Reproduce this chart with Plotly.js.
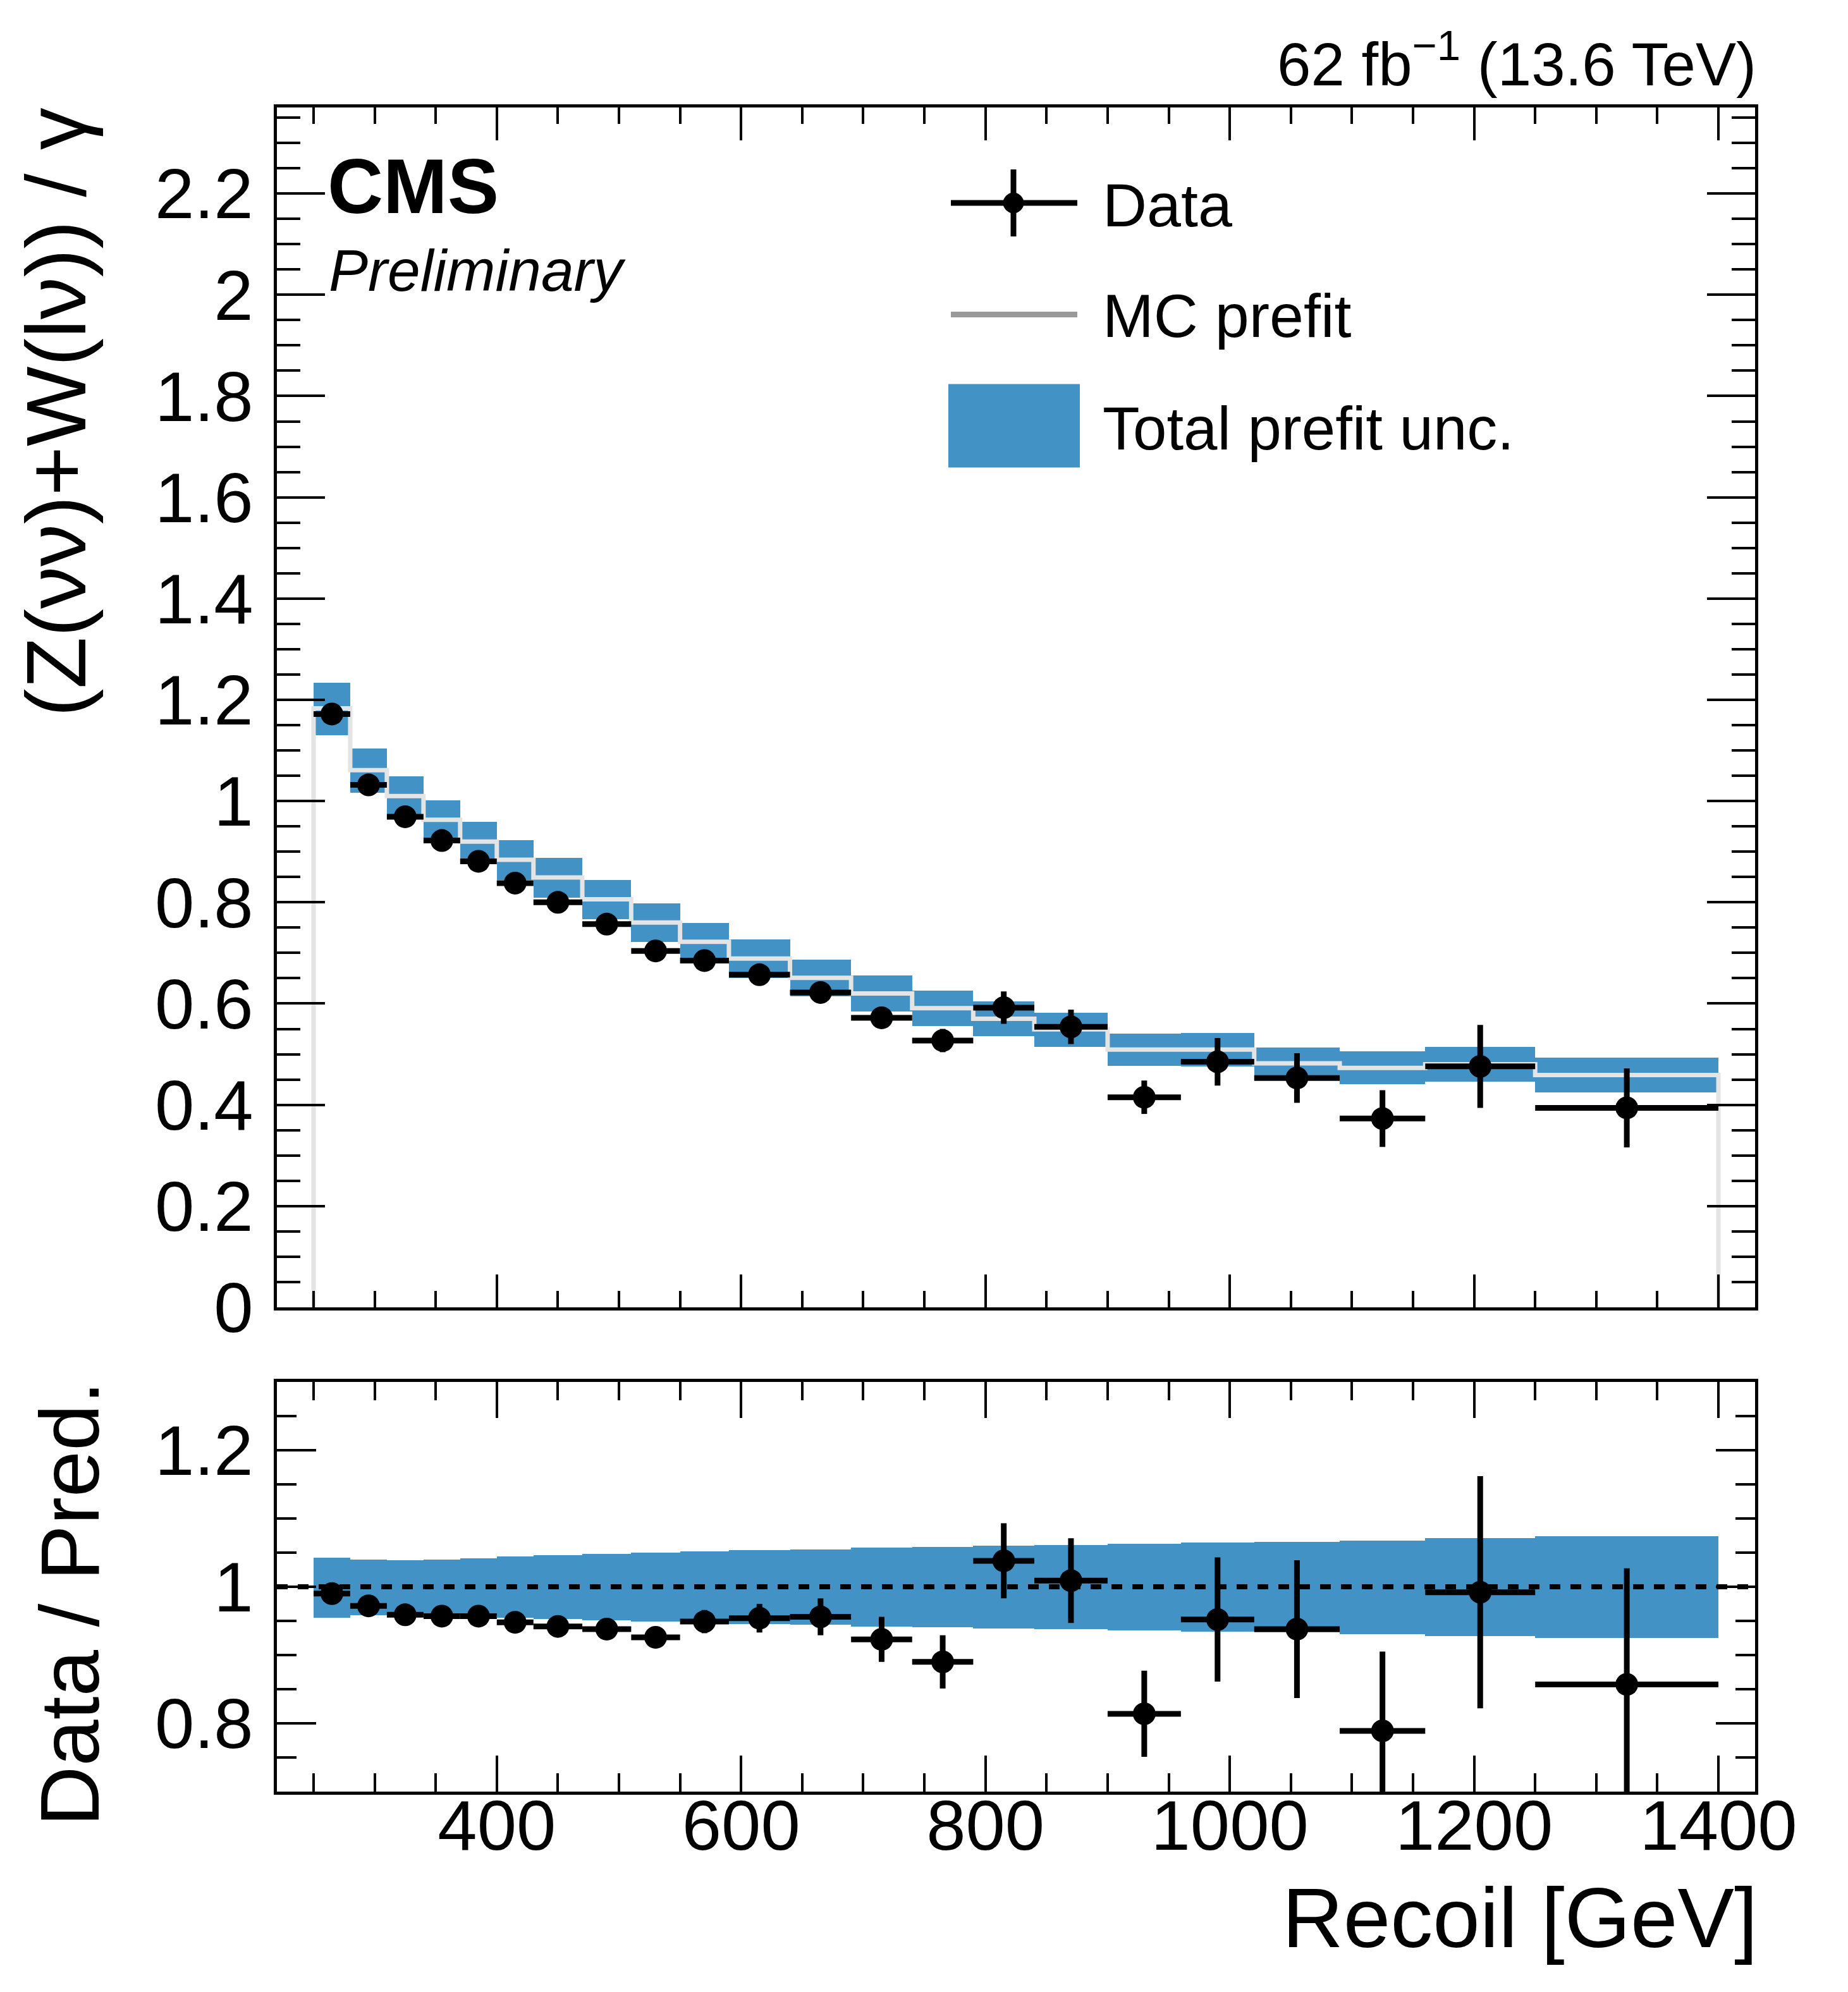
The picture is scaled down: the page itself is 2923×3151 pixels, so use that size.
<!DOCTYPE html>
<html>
<head>
<meta charset="utf-8">
<script src="https://cdn.plot.ly/plotly-3.0.1.min.js"></script>
<style>html,body{margin:0;padding:0;background:#ffffff;}</style>
</head>
<body>
<div id="chart" style="width:2923px;height:3151px;"></div>
<script>
// ---------------- data ----------------
const binLow  = [250,280,310,340,370,400,430,470,510,550,590,640,690,740,790,840,900,960,1020,1090,1160,1250];
const binHigh = [280,310,340,370,400,430,470,510,550,590,640,690,740,790,840,900,960,1020,1090,1160,1250,1400];

const dataVal = [1.172,1.032,0.969,0.922,0.881,0.838,0.800,0.757,0.704,0.685,0.657,0.622,0.572,0.527,0.592,0.554,0.415,0.485,0.453,0.373,0.476,0.394];
const dataErr = [0.005,0.005,0.006,0.006,0.006,0.007,0.007,0.008,0.009,0.012,0.0145,0.0175,0.020,0.023,0.032,0.034,0.033,0.047,0.049,0.056,0.082,0.078];

const mcVal   = [1.183,1.061,1.010,0.963,0.920,0.884,0.849,0.806,0.760,0.722,0.689,0.651,0.620,0.591,0.570,0.549,0.509,0.509,0.482,0.473,0.480,0.459];
const uncUp   = [0.043,0.040,0.039,0.040,0.042,0.044,0.046,0.048,0.050,0.052,0.054,0.055,0.057,0.058,0.060,0.061,0.063,0.065,0.066,0.068,0.071,0.074];
const uncDown = [0.045,0.042,0.040,0.041,0.043,0.045,0.047,0.049,0.051,0.053,0.055,0.056,0.058,0.059,0.061,0.062,0.064,0.066,0.067,0.069,0.072,0.075];

const ratioVal = [0.990,0.972,0.959,0.957,0.957,0.948,0.942,0.938,0.926,0.949,0.954,0.956,0.923,0.890,1.038,1.009,0.814,0.952,0.938,0.789,0.992,0.857];
const ratioErr = [0.004,0.005,0.006,0.006,0.007,0.008,0.009,0.010,0.012,0.017,0.021,0.027,0.033,0.039,0.055,0.062,0.063,0.091,0.101,0.116,0.170,0.170];

const refLineX = [220,1430];
const refLineY = [1,1];

const xTickVals  = [400,600,800,1000,1200,1400];
const xTickText  = ['400','600','800','1000','1200','1400'];
const yTickVals  = [0,0.2,0.4,0.6,0.8,1,1.2,1.4,1.6,1.8,2,2.2];
const yTickText  = ['0','0.2','0.4','0.6','0.8','1','1.2','1.4','1.6','1.8','2','2.2'];
const y2TickVals = [0.8,1,1.2];
const y2TickText = ['0.8','1','1.2'];

// ---------------- derived per-bin quantities ----------------
const centers = binLow.map((l,i)=>(l+binHigh[i])/2);
const widths  = binLow.map((l,i)=>binHigh[i]-l);
const halfW   = widths.map(w=>w/2);
const bandBase   = mcVal.map((m,i)=>m*(1-uncDown[i]));
const bandHeight = mcVal.map((m,i)=>m*(uncUp[i]+uncDown[i]));
const rBandBase   = uncDown.map(d=>1-d);
const rBandHeight = uncUp.map((u,i)=>u+uncDown[i]);
const stepX = [binLow[0]].concat(binLow, [binHigh[binHigh.length-1], binHigh[binHigh.length-1]]);
const stepY = [0].concat(mcVal, [mcVal[mcVal.length-1], 0]);

// ---------------- style ----------------
const BLUE = '#4292c6';
const FONT = 'Liberation Sans, Arial, Helvetica, sans-serif';
const W = 2923, H = 3151;
const L = 438, R = 2776, T = 170, B = 2834;
const px2x = px => (px - L)/(R - L);
const px2y = py => (B - py)/(B - T);

const traces = [
  {type:'bar', x:centers, y:bandHeight, base:bandBase, width:widths,
   marker:{color:BLUE, line:{width:0}}, xaxis:'x', yaxis:'y', hoverinfo:'skip'},
  {type:'scatter', mode:'lines', x:stepX, y:stepY, line:{shape:'hv', color:'#e4e4e4', width:7},
   xaxis:'x', yaxis:'y', hoverinfo:'skip'},
  {type:'scatter', mode:'markers', x:centers, y:dataVal,
   marker:{color:'#000', size:36},
   error_x:{type:'data', array:halfW, visible:true, color:'#000', thickness:9, width:0},
   error_y:{type:'data', array:dataErr, visible:true, color:'#000', thickness:9, width:0},
   xaxis:'x', yaxis:'y'},
  {type:'bar', x:centers, y:rBandHeight, base:rBandBase, width:widths,
   marker:{color:BLUE, line:{width:0}}, xaxis:'x2', yaxis:'y2', hoverinfo:'skip'},
  {type:'scatter', mode:'lines', x:refLineX, y:refLineY,
   line:{color:'#000', width:8, dash:'17px,16px'}, xaxis:'x2', yaxis:'y2', hoverinfo:'skip'},
  {type:'scatter', mode:'markers', x:centers, y:ratioVal,
   marker:{color:'#000', size:36},
   error_x:{type:'data', array:halfW, visible:true, color:'#000', thickness:9, width:0},
   error_y:{type:'data', array:ratioErr, visible:true, color:'#000', thickness:9, width:0},
   xaxis:'x2', yaxis:'y2'}
];

const axCommon = {showline:true, linewidth:5, linecolor:'#000', mirror:'ticks', ticks:'inside',
  tickwidth:4, tickcolor:'#000', showgrid:false, zeroline:false,
  tickfont:{family:FONT, size:112, color:'#000'}};

const layout = {
  width:W, height:H,
  margin:{l:L, r:W-R, t:T, b:H-B, pad:0},
  paper_bgcolor:'#fff', plot_bgcolor:'#fff',
  showlegend:false, barmode:'overlay', bargap:0,
  font:{family:FONT, color:'#000'},
  xaxis:Object.assign({}, axCommon, {domain:[0,1], anchor:'y', range:[220,1430], matches:'x2',
    tickvals:xTickVals, ticktext:xTickText, showticklabels:false, ticklen:52,
    minor:{dtick:50, tick0:0, ticks:'inside', ticklen:26, tickwidth:4, tickcolor:'#000', showgrid:false}}),
  yaxis:Object.assign({}, axCommon, {domain:[px2y(2068),1], anchor:'x', range:[0,2.37],
    tickvals:yTickVals, ticktext:yTickText, ticklen:76, ticklabelstandoff:10,
    minor:{dtick:0.05, tick0:0, ticks:'inside', ticklen:37, tickwidth:4, tickcolor:'#000', showgrid:false}}),
  xaxis2:Object.assign({}, axCommon, {domain:[0,1], anchor:'y2', range:[220,1430],
    tickvals:xTickVals, ticktext:xTickText, ticklen:57, ticklabelstandoff:-47,
    minor:{dtick:50, tick0:0, ticks:'inside', ticklen:29, tickwidth:4, tickcolor:'#000', showgrid:false}}),
  yaxis2:Object.assign({}, axCommon, {domain:[0,px2y(2186)], anchor:'x2', range:[0.7,1.3],
    tickvals:y2TickVals, ticktext:y2TickText, ticklen:62, ticklabelstandoff:10,
    minor:{dtick:0.05, tick0:0, ticks:'inside', ticklen:31, tickwidth:4, tickcolor:'#000', showgrid:false}}),
  annotations:[
    {text:'(Z(νν)+W(lν)) / γ', textangle:-90, xref:'paper', yref:'paper', x:px2x(88), y:px2y(168),
     xanchor:'center', yanchor:'top', showarrow:false, font:{family:FONT, size:134, color:'#000'}},
    {text:'Data / Pred.', textangle:-90, xref:'paper', yref:'paper', x:px2x(110), y:px2y(2183),
     xanchor:'center', yanchor:'top', showarrow:false, font:{family:FONT, size:132, color:'#000'}},
    {text:'Recoil [GeV]', xref:'paper', yref:'paper', x:px2x(2782), y:px2y(3110),
     xanchor:'right', yanchor:'bottom', showarrow:false, font:{family:FONT, size:134, color:'#000'}},
    {text:'62 fb<sup>−1</sup> (13.6 TeV)', xref:'paper', yref:'paper', x:px2x(2780), y:px2y(157),
     xanchor:'right', yanchor:'bottom', showarrow:false, font:{family:FONT, size:96, color:'#000'}},
    {text:'<b>CMS</b>', xref:'paper', yref:'paper', x:px2x(516), y:px2y(365),
     xanchor:'left', yanchor:'bottom', showarrow:false, font:{family:FONT, size:122, color:'#000'}},
    {text:'<i>Preliminary</i>', xref:'paper', yref:'paper', x:px2x(518), y:px2y(482),
     xanchor:'left', yanchor:'bottom', showarrow:false, font:{family:FONT, size:93, color:'#000'}},
    {text:'Data', xref:'paper', yref:'paper', x:px2x(1742), y:px2y(381),
     xanchor:'left', yanchor:'bottom', showarrow:false, font:{family:FONT, size:97, color:'#000'}},
    {text:'MC prefit', xref:'paper', yref:'paper', x:px2x(1742), y:px2y(556),
     xanchor:'left', yanchor:'bottom', showarrow:false, font:{family:FONT, size:97, color:'#000'}},
    {text:'Total prefit unc.', xref:'paper', yref:'paper', x:px2x(1742), y:px2y(733),
     xanchor:'left', yanchor:'bottom', showarrow:false, font:{family:FONT, size:96, color:'#000'}}
  ],
  shapes:[
    {type:'line', xref:'paper', yref:'paper', x0:px2x(1504), x1:px2x(1704), y0:px2y(321), y1:px2y(321), line:{color:'#000', width:9}},
    {type:'line', xref:'paper', yref:'paper', x0:px2x(1603), x1:px2x(1603), y0:px2y(268), y1:px2y(374), line:{color:'#000', width:9}},
    {type:'circle', xref:'paper', yref:'paper', x0:px2x(1587), x1:px2x(1619), y0:px2y(305), y1:px2y(337), fillcolor:'#000', line:{color:'#000', width:1}},
    {type:'line', xref:'paper', yref:'paper', x0:px2x(1504), x1:px2x(1704), y0:px2y(497.5), y1:px2y(497.5), line:{color:'#999999', width:9}},
    {type:'rect', xref:'paper', yref:'paper', x0:px2x(1500), x1:px2x(1708), y0:px2y(607.5), y1:px2y(739.6), fillcolor:BLUE, line:{width:0}}
  ]
};

Plotly.newPlot('chart', traces, layout, {staticPlot:true, displayModeBar:false});
</script>
</body>
</html>
